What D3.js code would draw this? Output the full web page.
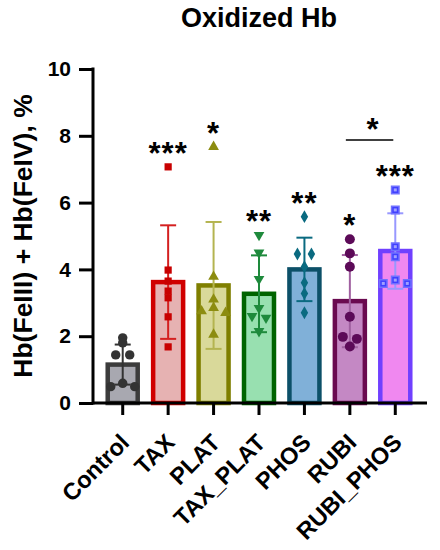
<!DOCTYPE html>
<html>
<head>
  <meta charset="utf-8">
  <title>Oxidized Hb</title>
  <style>
    body { margin: 0; background: #fff; }
    text { font-family: Arial, "Liberation Sans", sans-serif; font-weight: bold; }
  </style>
</head>
<body>
  <div id="chart"></div>
  <script src="https://cdn.jsdelivr.net/npm/d3@7"></script>
  <script>
    const groups = ['Control', 'TAX', 'PLAT', 'TAX_PLAT', 'PHOS', 'RUBI', 'RUBI_PHOS'];
    const means = [1.15, 3.62, 3.52, 3.27, 4.0, 3.05, 4.55];
    const sds = [0.6, 1.7, 1.9, 1.15, 0.95, 1.38, 1.13];
    const points = [
      [1.95, 1.8, 1.44, 1.44, 0.59, 0.49, 0.49],
      [7.07, 3.98, 3.65, 3.35, 3.15, 2.58, 1.68],
      [7.67, 3.78, 3.1, 2.85, 2.75, 2.7, 2.05],
      [5.03, 4.5, 3.71, 2.84, 2.6, 2.55, 2.15],
      [5.58, 4.46, 4.46, 4.08, 3.6, 3.28, 2.7],
      [4.9, 4.48, 4.08, 2.58, 1.98, 1.92, 1.69],
      [6.38, 5.78, 4.68, 4.38, 3.68, 3.58, 3.58]
    ];
    const stars = ['', '***', '*', '**', '**', '*', '***'];
    const comparisons = [['RUBI', 'RUBI_PHOS', '*']];
    const yTicks = [0, 2, 4, 6, 8, 10];

    const strokeColors = ['#3c3c3c', '#d00000', '#7f7f00', '#006400', '#0c5068', '#6a0a50', '#7040ff'];
    const fillColors = ['#a8a8b0', '#e6b2b2', '#d9d99a', '#98e0b0', '#80b0d8', '#c488c4', '#f088f0'];
    const pointColors = ['#333333', '#c80000', '#8c8c10', '#1e8a3c', '#0a6a80', '#5c0a58', '#4040ff'];
    const errColors = ['#333333', '#d42020', '#b4b450', '#1e8a3c', '#0a6a80', '#a060a0', '#9898ff'];
    const shapes = [d3.symbolCircle, d3.symbolSquare, d3.symbolTriangle, d3.symbolTriangle, d3.symbolDiamond, d3.symbolCircle, d3.symbolSquare];
    const sizes = [70, 52, 50, 50, 48, 78, 56];

    const W = 440, H = 550;
    const x0 = 93, x1 = 427, yBase = 403, yTop = 69;

    const svg = d3.select('#chart').append('svg')
      .attr('width', W).attr('height', H);

    const x = d3.scaleBand()
      .domain(groups)
      .range([100, 418])
      .paddingInner(0.34)
      .paddingOuter(0.17);

    const y = d3.scaleLinear()
      .domain([0, 10])
      .range([yBase, yTop]);

    // title
    svg.append('text')
      .attr('x', 259).attr('y', 27)
      .attr('text-anchor', 'middle')
      .style('font-size', '27px')
      .text('Oxidized Hb');

    // y label
    svg.append('text')
      .attr('transform', 'translate(32,' + ((yBase + yTop) / 2) + ') rotate(-90)')
      .attr('text-anchor', 'middle')
      .style('font-size', '26.5px')
      .text('Hb(FeIII) + Hb(FeIV), %');

    // bars
    const g = svg.selectAll('.grp')
      .data(groups)
      .enter().append('g')
        .attr('class', 'grp');

    g.append('rect')
      .attr('x', d => x(d))
      .attr('y', (d, i) => y(means[i]))
      .attr('width', x.bandwidth())
      .attr('height', (d, i) => y(0) - y(means[i]))
      .attr('fill', (d, i) => fillColors[i])
      .attr('stroke', (d, i) => strokeColors[i])
      .attr('stroke-width', 4.5);

    // error bars
    const cx = d => x(d) + x.bandwidth() / 2;
    g.append('line')
      .attr('x1', cx).attr('x2', cx)
      .attr('y1', (d, i) => y(means[i] - sds[i]))
      .attr('y2', (d, i) => y(means[i] + sds[i]))
      .attr('stroke', (d, i) => errColors[i])
      .attr('stroke-width', 2);
    [-1, 1].forEach(s => {
      g.append('line')
        .attr('x1', d => cx(d) - 8).attr('x2', d => cx(d) + 8)
        .attr('y1', (d, i) => y(means[i] + s * sds[i]))
        .attr('y2', (d, i) => y(means[i] + s * sds[i]))
        .attr('stroke', (d, i) => errColors[i])
        .attr('stroke-width', 2);
    });

    // points that sit at nearly the same height go side by side
    function spread(vals, c) {
      const sorted = vals.map(v => y(v)).sort((a, b) => a - b);
      const rows = [];
      sorted.forEach(py => {
        const last = rows[rows.length - 1];
        if (last && py - last[last.length - 1] < 4) last.push(py);
        else rows.push([py]);
      });
      const out = [];
      rows.forEach(r => {
        const offs = r.length === 1 ? [0] : r.length === 2 ? [-7, 7] : [0, -12, 12];
        r.forEach((py, k) => out.push([c + offs[k], py]));
      });
      return out;
    }

    groups.forEach((gr, i) => {
      const pos = spread(points[i], cx(gr));
      const sym = d3.symbol().type(shapes[i]).size(sizes[i]);
      svg.append('g').selectAll('path')
        .data(pos)
        .enter().append('path')
          .attr('d', sym)
          .attr('transform', p => 'translate(' + p[0] + ',' + p[1] + ')' + (i === 3 ? ' rotate(180)' : ''))
          .attr('fill', pointColors[i])
          .attr('stroke', i === 6 ? '#7070ff' : 'none')
          .attr('stroke-width', 1.5);
      if (i === 6) {
        svg.append('g').selectAll('rect')
          .data(pos)
          .enter().append('rect')
            .attr('x', p => p[0] - 1.5).attr('y', p => p[1] - 1.5)
            .attr('width', 3).attr('height', 3)
            .attr('fill', '#a0a0ff');
      }
    });

    // significance stars
    const starY = i => y(d3.max(points[i])) - 21;
    svg.selectAll('.star')
      .data(groups)
      .enter().append('text')
        .attr('class', 'star')
        .attr('x', cx)
        .attr('y', (d, i) => starY(i) + 18)
        .attr('text-anchor', 'middle')
        .style('font-size', '31px')
        .style('letter-spacing', '1px')
        .text((d, i) => stars[i]);

    comparisons.forEach(c => {
      const a = groups.indexOf(c[0]), b = groups.indexOf(c[1]);
      const ly = Math.min(starY(a), starY(b)) - 29;
      svg.append('line')
        .attr('x1', cx(c[0]) - 4).attr('x2', cx(c[1]) - 2)
        .attr('y1', ly).attr('y2', ly)
        .attr('stroke', '#000').attr('stroke-width', 1.5);
      svg.append('text')
        .attr('x', (cx(c[0]) + cx(c[1])) / 2)
        .attr('y', ly - 18 + 18)
        .attr('text-anchor', 'middle')
        .style('font-size', '31px')
        .text(c[2]);
    });

    // y axis
    const yAxis = d3.axisLeft(y).tickValues(yTicks).tickSize(14).tickPadding(8);
    const ya = svg.append('g')
      .attr('transform', 'translate(' + x0 + ',0)')
      .call(yAxis);
    ya.select('.domain').remove();
    ya.selectAll('line').attr('stroke', '#000').attr('stroke-width', 3);
    ya.selectAll('text').style('font-size', '21px').attr('fill', '#000')
      .style('font-family', 'Arial, "Liberation Sans", sans-serif');

    // x axis
    const xAxis = d3.axisBottom(x).tickSize(12).tickSizeOuter(0);
    const xa = svg.append('g')
      .attr('transform', 'translate(0,' + yBase + ')')
      .call(xAxis);
    xa.select('.domain').remove();
    xa.selectAll('line').attr('stroke', '#000').attr('stroke-width', 3);
    xa.selectAll('text')
      .style('font-size', '23.5px')
      .style('font-family', 'Arial, "Liberation Sans", sans-serif')
      .attr('fill', '#000')
      .attr('text-anchor', 'end')
      .attr('x', 0).attr('y', 0).attr('dy', 0)
      .attr('transform', 'translate(8,41) rotate(-45)');

    // axis lines
    svg.append('line')
      .attr('x1', x0).attr('x2', x0)
      .attr('y1', yTop - 1.5).attr('y2', yBase + 1.5)
      .attr('stroke', '#000').attr('stroke-width', 3);
    svg.append('line')
      .attr('x1', x0).attr('x2', x1)
      .attr('y1', yBase).attr('y2', yBase)
      .attr('stroke', '#000').attr('stroke-width', 3);
  </script>
</body>
</html>
